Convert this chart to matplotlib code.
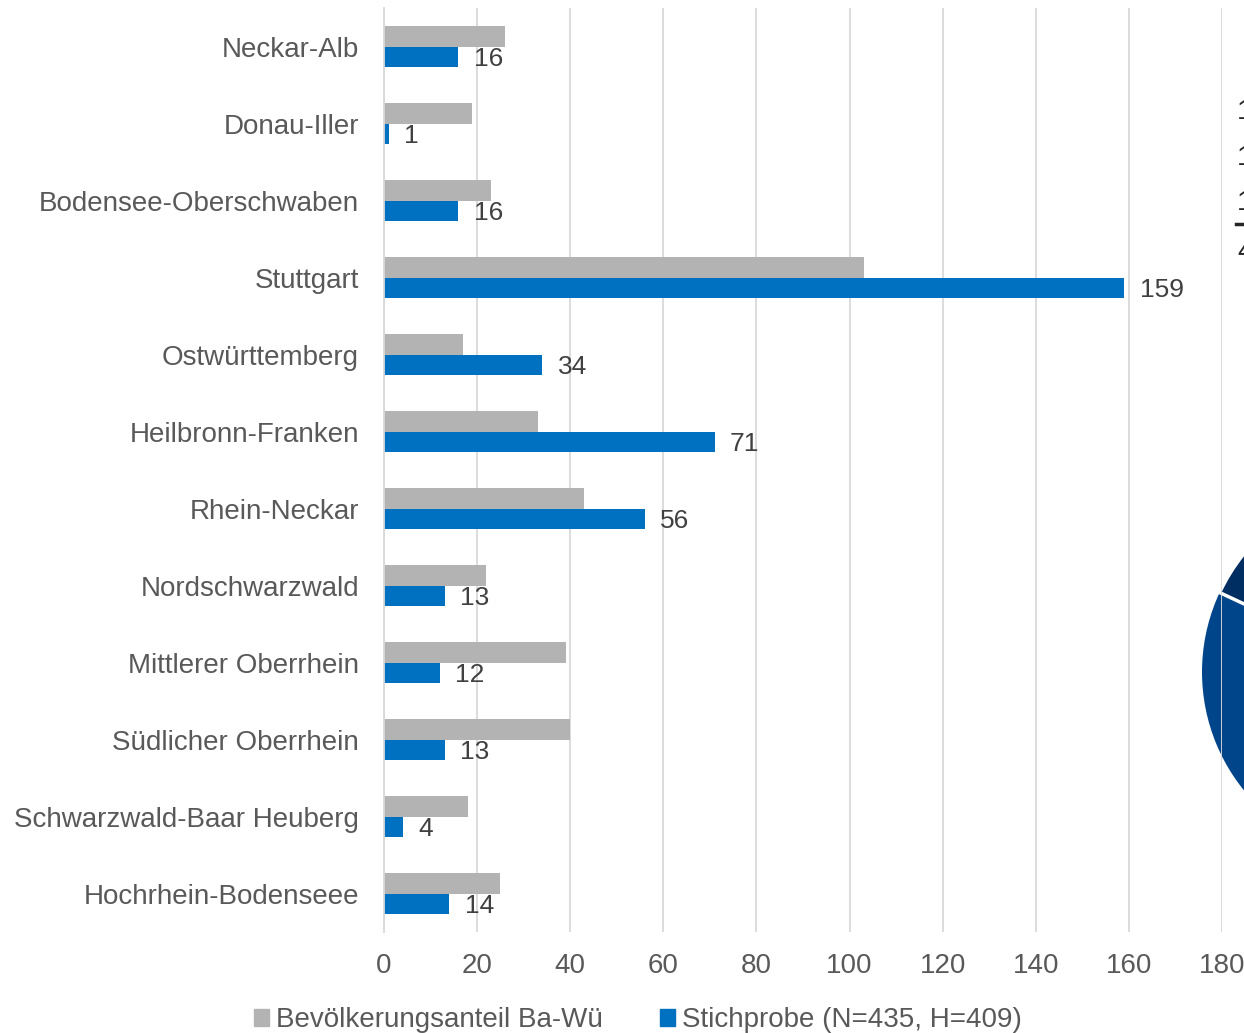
import matplotlib.pyplot as plt
import numpy as np
from matplotlib.patches import Wedge

regions = ["Neckar-Alb", "Donau-Iller", "Bodensee-Oberschwaben", "Stuttgart",
           "Ostwürttemberg", "Heilbronn-Franken", "Rhein-Neckar", "Nordschwarzwald",
           "Mittlerer Oberrhein", "Südlicher Oberrhein", "Schwarzwald-Baar Heuberg",
           "Hochrhein-Bodenseee"]
population_share = [26, 19, 23, 103, 17, 33, 43, 22, 39, 40, 18, 25]
sample = [16, 1, 16, 159, 34, 71, 56, 13, 12, 13, 4, 14]
x_ticks = [0, 20, 40, 60, 80, 100, 120, 140, 160, 180]

GRAY = "#b3b3b3"
BLUE = "#0070c0"
W, H = 1244, 1033

plt.rcParams['font.family'] = ['Liberation Sans', 'DejaVu Sans']
fig = plt.figure(figsize=(W / 100, H / 100), dpi=100)

# neighbouring pie chart, only its left edge visible
pie_ax = fig.add_axes([0, 0, 1, 1], zorder=0)
pie_ax.set_xlim(0, W)
pie_ax.set_ylim(H, 0)
pie_ax.axis("off")
cx, cy, r = 1390, 672, 188
pie_ax.add_patch(Wedge((cx, cy), r, 0, 360, facecolor="#00458a", edgecolor="none"))
pie_ax.add_patch(Wedge((cx, cy), r, 205, 232, facecolor="#002d62",
                       edgecolor="white", linewidth=2.5))
for ty, tx in zip([112, 158, 203, 252], ["1", "1", "1", "4"]):
    pie_ax.text(1237, ty, tx, fontsize=20, color="#262626", va="center")
pie_ax.plot([1236, 1244], [224, 224], color="#262626", linewidth=2.5)

ax = fig.add_axes([384 / W, 1 - 932 / H, (1222 - 384) / W, (932 - 8) / H], zorder=1)
ax.patch.set_visible(False)
y = np.arange(len(regions))
bh = 0.26
ax.barh(y - bh / 2, population_share, height=bh, color=GRAY, zorder=3)
ax.barh(y + bh / 2, sample, height=bh, color=BLUE, zorder=3)

for yi, v in zip(y, sample):
    ax.text(v + 3.3, yi + bh / 2 + 0.03, str(v), va="center", ha="left",
            fontsize=19, color="#404040")

ax.set_xlim(0, 180)
ax.set_ylim(len(regions) - 0.5, -0.5)
ax.set_xticks(x_ticks)
ax.set_yticks(y)
ax.set_yticklabels(regions)
ax.tick_params(axis="both", length=0, labelsize=20, colors="#595959")
ax.tick_params(axis="y", pad=18)
ax.tick_params(axis="x", pad=15)
ax.xaxis.grid(True, color="#d9d9d9", linewidth=1.3, zorder=0)
for s in ["top", "right", "bottom"]:
    ax.spines[s].set_visible(False)
ax.spines["left"].set_color("#d9d9d9")
ax.spines["left"].set_linewidth(1.3)
ax.spines["left"].set_zorder(4)

# legend
leg = fig.legend(handles=[plt.Rectangle((0, 0), 1, 1, color=GRAY),
                          plt.Rectangle((0, 0), 1, 1, color=BLUE)],
                 labels=["Bevölkerungsanteil Ba-Wü", "Stichprobe (N=435, H=409)"],
                 loc="center", bbox_to_anchor=(638 / W, 1 - 1020 / H), ncol=2,
                 frameon=False, fontsize=20, handlelength=0.55, handleheight=0.55,
                 handletextpad=0.25, columnspacing=2.05, borderaxespad=0)
for t in leg.get_texts():
    t.set_color("#595959")

fig.savefig("out.png", dpi=100)
